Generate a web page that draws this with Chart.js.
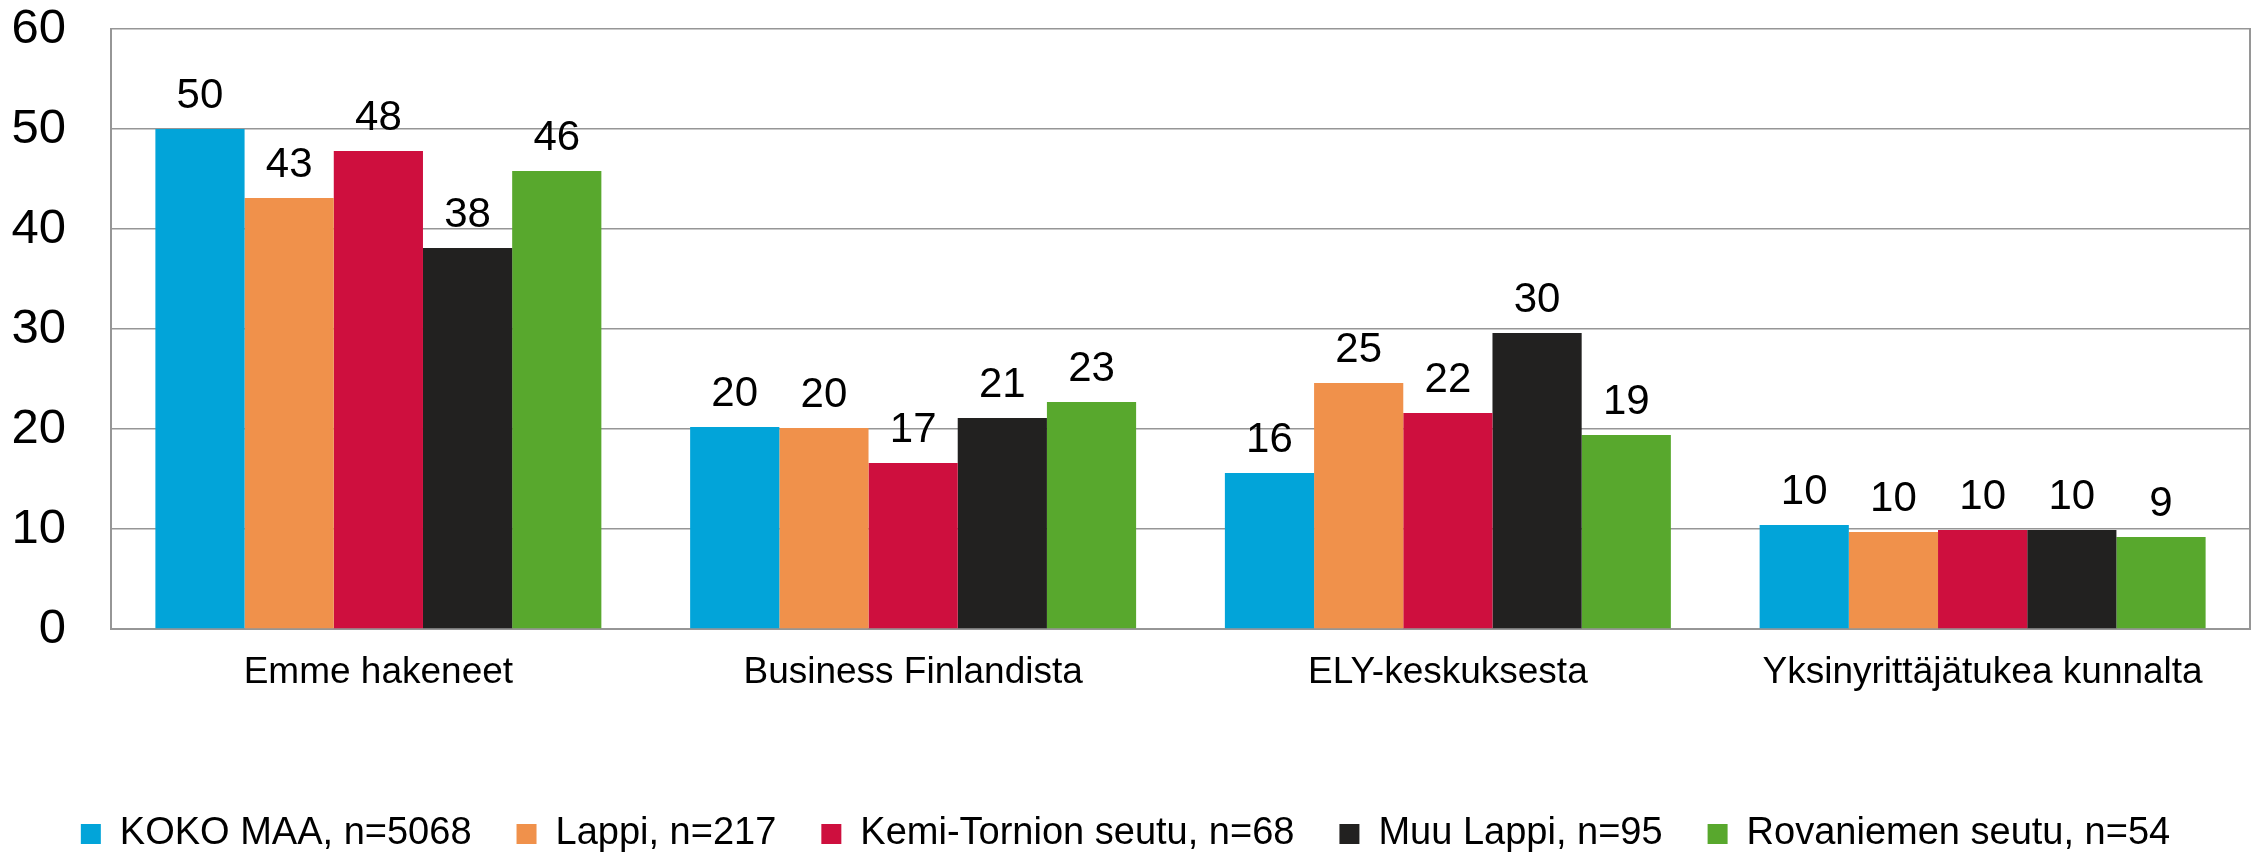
<!DOCTYPE html>
<html>
<head>
<meta charset="utf-8">
<script src="https://cdn.jsdelivr.net/npm/chart.js@4/dist/chart.umd.min.js"></script>
<style>
  html, body { margin: 0; padding: 0; background: #fff; }
  #wrap { width: 2260px; height: 853px; }
</style>
</head>
<body>
<div id="wrap"><canvas id="myChart" width="2260" height="853"></canvas></div>
<script>
const categories = ['Emme hakeneet', 'Business Finlandista', 'ELY-keskuksesta', 'Yksinyrittäjätukea kunnalta'];
const seriesNames = ['KOKO MAA, n=5068', 'Lappi, n=217', 'Kemi-Tornion seutu, n=68', 'Muu Lappi, n=95', 'Rovaniemen seutu, n=54'];
const kokoMaa = [50.0, 20.2, 15.6, 10.4];
const lappi = [43.1, 20.1, 24.6, 9.7];
const kemiTornio = [47.8, 16.6, 21.6, 9.9];
const muuLappi = [38.1, 21.1, 29.6, 9.9];
const rovaniemi = [45.8, 22.7, 19.4, 9.2];
const yTicks = [0, 10, 20, 30, 40, 50, 60];

const colors = ['#02a4d9', '#f0914b', '#ce0f3e', '#222120', '#58a82d'];
const FONT = "'Liberation Sans', Arial, sans-serif";

// value labels above each bar
const barLabels = {
    id: 'barLabels',
    afterDatasetsDraw(chart) {
        const ctx = chart.ctx;
        ctx.save();
        ctx.font = '42px ' + FONT;
        ctx.fillStyle = '#000';
        ctx.textAlign = 'center';
        ctx.textBaseline = 'middle';
        chart.data.datasets.forEach((ds, i) => {
            chart.getDatasetMeta(i).data.forEach((bar, j) => {
                ctx.fillText(Math.round(ds.data[j]), bar.x, bar.y - 33);
            });
        });
        ctx.restore();
    }
};

const allSeries = [kokoMaa, lappi, kemiTornio, muuLappi, rovaniemi];

const ctx = document.getElementById('myChart').getContext('2d');
const myChart = new Chart(ctx, {
    type: 'bar',
    data: {
        labels: categories,
        datasets: allSeries.map((vals, i) => ({
            label: seriesNames[i],
            data: vals,
            backgroundColor: colors[i],
            borderWidth: 0,
            categoryPercentage: 0.834,
            barPercentage: 1.0
        }))
    },
    options: {
        responsive: false,
        animation: false,
        layout: {
            padding: { top: 29, right: 9, left: 0, bottom: 0 }
        },
        scales: {
            x: {
                grid: { display: false, drawTicks: false },
                border: { display: true, color: '#969696', width: 2 },
                ticks: {
                    color: '#000',
                    font: { family: FONT, size: 37 },
                    padding: 22,
                    maxRotation: 0,
                    autoSkip: false
                },
                afterFit(scale) { scale.height = 141; }
            },
            y: {
                min: 0,
                max: 60,
                afterBuildTicks(scale) { scale.ticks = yTicks.map(v => ({ value: v })); },
                grid: { color: '#969696', lineWidth: 1.5, drawTicks: false },
                border: { display: true, color: '#969696', width: 2 },
                ticks: {
                    color: '#000',
                    font: { family: FONT, size: 49 },
                    padding: 45
                },
                afterFit(scale) {
                    scale.width = 111;
                    scale.paddingTop = 0;
                    scale.paddingBottom = 0;
                }
            },
            y2: {
                position: 'right',
                min: 0,
                max: 60,
                grid: { display: false, drawTicks: false },
                border: { display: true, color: '#969696', width: 2 },
                ticks: { display: false },
                afterFit(scale) {
                    scale.width = 1;
                    scale.paddingTop = 0;
                    scale.paddingBottom = 0;
                }
            }
        },
        plugins: {
            legend: {
                position: 'bottom',
                maxHeight: 83,
                labels: {
                    color: '#000',
                    font: { family: FONT, size: 38 },
                    boxWidth: 20,
                    boxHeight: 20,
                    padding: 45
                }
            },
            tooltip: { enabled: false }
        }
    },
    plugins: [barLabels]
});
</script>
</body>
</html>
